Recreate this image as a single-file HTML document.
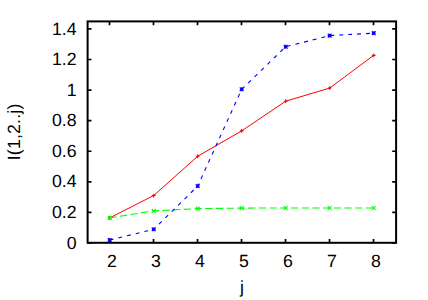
<!DOCTYPE html><html><head><meta charset="utf-8"><style>html,body{margin:0;padding:0;background:#fff}svg{display:block}text{font-family:"Liberation Sans",sans-serif;font-size:17.7px;fill:#000;text-rendering:geometricPrecision}</style></head><body>
<svg width="428" height="300" viewBox="0 0 428 300">
<rect width="428" height="300" fill="#fff"/>
<rect x="87.60" y="21.40" width="308.50" height="221.40" fill="none" stroke="#000" stroke-width="2"/>
<path d="M109.50 242.80v-3.9M109.50 21.40v3.9M153.50 242.80v-3.9M153.50 21.40v3.9M197.50 242.80v-3.9M197.50 21.40v3.9M241.50 242.80v-3.9M241.50 21.40v3.9M285.50 242.80v-3.9M285.50 21.40v3.9M329.50 242.80v-3.9M329.50 21.40v3.9M373.50 242.80v-3.9M373.50 21.40v3.9M87.60 243.00h3.9M396.10 243.00h-3.9M87.60 212.42h3.9M396.10 212.42h-3.9M87.60 181.84h3.9M396.10 181.84h-3.9M87.60 151.26h3.9M396.10 151.26h-3.9M87.60 120.68h3.9M396.10 120.68h-3.9M87.60 90.10h3.9M396.10 90.10h-3.9M87.60 59.52h3.9M396.10 59.52h-3.9M87.60 28.94h3.9M396.10 28.94h-3.9" stroke="#000" stroke-width="1.7" fill="none"/>
<polyline fill="none" stroke="#ff0000" stroke-width="1.0" points="109.70,217.87 153.70,195.54 197.70,156.25 241.70,130.90 285.70,101.20 329.70,88.05 373.70,55.33"/>
<path d="M107.80 217.87h3.80M109.70 215.97v3.80" stroke="#ff0000" stroke-width="1.1" fill="none"/>
<path d="M151.80 195.54h3.80M153.70 193.64v3.80" stroke="#ff0000" stroke-width="1.1" fill="none"/>
<path d="M195.80 156.25h3.80M197.70 154.35v3.80" stroke="#ff0000" stroke-width="1.1" fill="none"/>
<path d="M239.80 130.90h3.80M241.70 129.00v3.80" stroke="#ff0000" stroke-width="1.1" fill="none"/>
<path d="M283.80 101.20h3.80M285.70 99.30v3.80" stroke="#ff0000" stroke-width="1.1" fill="none"/>
<path d="M327.80 88.05h3.80M329.70 86.15v3.80" stroke="#ff0000" stroke-width="1.1" fill="none"/>
<path d="M371.80 55.33h3.80M373.70 53.43v3.80" stroke="#ff0000" stroke-width="1.1" fill="none"/>
<polyline fill="none" stroke="#00ff00" stroke-width="1.1" stroke-dasharray="7.4 3.32" stroke-dashoffset="0.45" points="109.70,217.87 153.70,210.89 197.70,208.65 241.70,208.10 285.70,207.95 329.70,207.95 373.70,207.95"/>
<path d="M107.80 215.97l3.80 3.80M107.80 219.77l3.80 -3.80" stroke="#00ff00" stroke-width="1.1" fill="none"/>
<path d="M151.80 208.99l3.80 3.80M151.80 212.79l3.80 -3.80" stroke="#00ff00" stroke-width="1.1" fill="none"/>
<path d="M195.80 206.75l3.80 3.80M195.80 210.55l3.80 -3.80" stroke="#00ff00" stroke-width="1.1" fill="none"/>
<path d="M239.80 206.20l3.80 3.80M239.80 210.00l3.80 -3.80" stroke="#00ff00" stroke-width="1.1" fill="none"/>
<path d="M283.80 206.05l3.80 3.80M283.80 209.85l3.80 -3.80" stroke="#00ff00" stroke-width="1.1" fill="none"/>
<path d="M327.80 206.05l3.80 3.80M327.80 209.85l3.80 -3.80" stroke="#00ff00" stroke-width="1.1" fill="none"/>
<path d="M371.80 206.05l3.80 3.80M371.80 209.85l3.80 -3.80" stroke="#00ff00" stroke-width="1.1" fill="none"/>
<path fill="none" stroke="#0000ff" stroke-width="1.1" stroke-dasharray="3.9 5.05" stroke-dashoffset="0.10" d="M109.70 240.00L153.70 229.33"/>
<path fill="none" stroke="#0000ff" stroke-width="1.1" stroke-dasharray="3.9 5.05" stroke-dashoffset="1.53" d="M153.70 229.33L197.70 186.06"/>
<path fill="none" stroke="#0000ff" stroke-width="1.1" stroke-dasharray="3.9 5.05" stroke-dashoffset="1.09" d="M197.70 186.06L241.70 89.25"/>
<path fill="none" stroke="#0000ff" stroke-width="1.1" stroke-dasharray="3.9 5.05" stroke-dashoffset="0.03" d="M241.70 89.25L285.70 46.77"/>
<path fill="none" stroke="#0000ff" stroke-width="1.1" stroke-dasharray="3.9 5.05" stroke-dashoffset="7.89" d="M285.70 46.77L329.70 35.60"/>
<path fill="none" stroke="#0000ff" stroke-width="1.1" stroke-dasharray="3.9 5.05" stroke-dashoffset="8.33" d="M329.70 35.60L373.70 33.16"/>
<path d="M107.80 238.10l3.80 3.80M107.80 241.90l3.80 -3.80M107.80 240.00h3.80M109.70 238.10v3.80" stroke="#0000ff" stroke-width="1.1" fill="none"/>
<path d="M151.80 227.43l3.80 3.80M151.80 231.23l3.80 -3.80M151.80 229.33h3.80M153.70 227.43v3.80" stroke="#0000ff" stroke-width="1.1" fill="none"/>
<path d="M195.80 184.16l3.80 3.80M195.80 187.96l3.80 -3.80M195.80 186.06h3.80M197.70 184.16v3.80" stroke="#0000ff" stroke-width="1.1" fill="none"/>
<path d="M239.80 87.35l3.80 3.80M239.80 91.15l3.80 -3.80M239.80 89.25h3.80M241.70 87.35v3.80" stroke="#0000ff" stroke-width="1.1" fill="none"/>
<path d="M283.80 44.87l3.80 3.80M283.80 48.67l3.80 -3.80M283.80 46.77h3.80M285.70 44.87v3.80" stroke="#0000ff" stroke-width="1.1" fill="none"/>
<path d="M327.80 33.70l3.80 3.80M327.80 37.50l3.80 -3.80M327.80 35.60h3.80M329.70 33.70v3.80" stroke="#0000ff" stroke-width="1.1" fill="none"/>
<path d="M371.80 31.26l3.80 3.80M371.80 35.06l3.80 -3.80M371.80 33.16h3.80M373.70 31.26v3.80" stroke="#0000ff" stroke-width="1.1" fill="none"/>
<text x="111.80" y="267" text-anchor="middle">2</text>
<text x="155.80" y="267" text-anchor="middle">3</text>
<text x="199.80" y="267" text-anchor="middle">4</text>
<text x="243.80" y="267" text-anchor="middle">5</text>
<text x="287.80" y="267" text-anchor="middle">6</text>
<text x="331.80" y="267" text-anchor="middle">7</text>
<text x="375.80" y="267" text-anchor="middle">8</text>
<text x="76.6" y="249.00" text-anchor="end">0</text>
<text x="76.6" y="218.00" text-anchor="end">0.2</text>
<text x="76.6" y="187.00" text-anchor="end">0.4</text>
<text x="76.6" y="157.00" text-anchor="end">0.6</text>
<text x="76.6" y="126.00" text-anchor="end">0.8</text>
<text x="76.6" y="96.00" text-anchor="end">1</text>
<text x="76.6" y="65.00" text-anchor="end">1.2</text>
<text x="76.6" y="35.00" text-anchor="end">1.4</text>
<text x="241.9" y="293" text-anchor="middle">j</text>
<text transform="translate(20,160.3) rotate(-90)" style="letter-spacing:0.2px">I(1,2..j)</text>
</svg></body></html>
